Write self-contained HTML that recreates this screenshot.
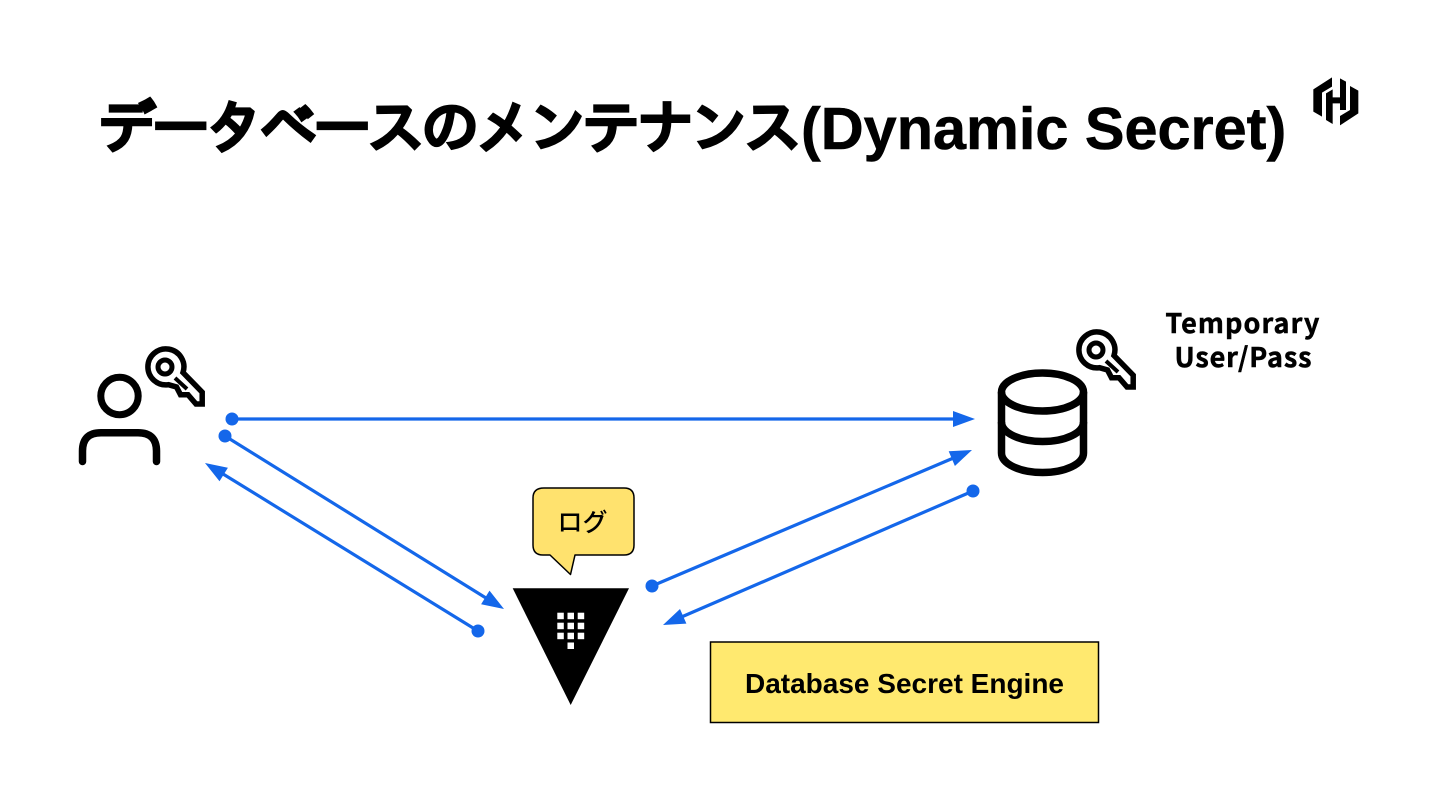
<!DOCTYPE html>
<html lang="ja">
<head>
<meta charset="utf-8">
<title>データベースのメンテナンス(Dynamic Secret)</title>
<style>
html,body{margin:0;padding:0;background:#fff;width:1440px;height:810px;overflow:hidden}
svg{display:block}
</style>
</head>
<body>
<svg width="1440" height="810" viewBox="0 0 1440 810" xmlns="http://www.w3.org/2000/svg">
<defs>
<g id="key" fill="none" stroke="#000">
<path d="M18 5.500 A18 18 0 1 0 3.500 17.700 L11.500 20 L15.500 27.700 L23 27.700 L31 37 L37.200 37 L37.200 25.200 Z" stroke-width="5.500" fill="#fff" stroke-linejoin="miter"/>
<circle cx="0" cy="0" r="7" stroke-width="5"/>
<path d="M10 11 L22 22" stroke-width="4"/>
</g>
</defs>

<text x="98" y="148" font-family="'Liberation Sans','IPAGothic',sans-serif" font-weight="700" font-size="58" fill="#000" stroke="#000" stroke-width="2.200" textLength="704" lengthAdjust="spacing">データベースのメンテナンス</text>
<text x="801" y="149" font-family="'Liberation Sans',sans-serif" font-weight="700" font-size="59.400" fill="#000" stroke="#000" stroke-width=".6">(Dynamic Secret)</text>

<g transform="translate(1290,60) scale(.33333)" fill="#000">
<polygon points="70,88 126,52 126,80 96,98 96,170 70,155"/>
<polygon points="108,100 128,88 128,112 150,112 150,55 168,65 168,150 150,150 150,130 128,130 128,192 108,180"/>
<polygon points="205,160 150,196 150,168 180,150 180,78 205,92"/>
</g>

<!-- User -->
<circle cx="119.500" cy="396" r="18.700" fill="none" stroke="#000" stroke-width="7"/>
<path d="M82.500 461.500 V451 Q82.500 432.700 101 432.700 H138 Q156.500 432.700 156.500 451 V461.500" fill="none" stroke="#000" stroke-width="7.500" stroke-linecap="round"/>
<use href="#key" x="165" y="367"/>

<!-- Database -->
<g fill="none" stroke="#000" stroke-width="7.500">
<ellipse cx="1042.500" cy="392" rx="41" ry="19"/>
<path d="M1001.500 392 V453 C1001.500 464 1020 472.500 1042.500 472.500 C1065 472.500 1083.500 464 1083.500 453 V392"/>
<path d="M1001.500 422 C1001.500 433 1020 441.500 1042.500 441.500 C1065 441.500 1083.500 433 1083.500 422"/>
</g>
<use href="#key" x="1096" y="350"/>

<text font-family="'Noto Sans CJK JP','DejaVu Sans',sans-serif" font-weight="700" font-size="27" fill="#000" stroke="#000" stroke-width=".5" text-anchor="middle">
<tspan x="1246" y="333" textLength="154">Temporary</tspan>
<tspan x="1243" y="367" textLength="137">User/Pass</tspan>
</text>

<!-- Arrows -->
<g stroke="#1467ea" stroke-width="3.200" fill="none">
<line x1="232" y1="419" x2="960" y2="419"/>
<line x1="225" y1="436" x2="490" y2="600.500"/>
<line x1="478" y1="631" x2="219" y2="471.500"/>
<line x1="652" y1="586" x2="957" y2="456.500"/>
<line x1="973" y1="491" x2="678" y2="618.500"/>
</g>
<g fill="#1467ea">
<circle cx="232" cy="419" r="6.500"/>
<circle cx="225" cy="436" r="6.500"/>
<circle cx="478" cy="631" r="6.500"/>
<circle cx="652" cy="586" r="6.500"/>
<circle cx="973" cy="491" r="6.500"/>
<polygon points="975,419 953,411 953,427"/>
<polygon points="504,609 481.100,604.200 489.500,590.600"/>
<polygon points="205,463 227.900,467.700 219.500,481.300"/>
<polygon points="972,450 954.900,466 948.700,451.200"/>
<polygon points="663,625 686.400,623.600 680,609"/>
</g>

<!-- Vault -->
<polygon points="512.700,588.300 629,588.300 570.700,705" fill="#000"/>
<g fill="#fff">
<rect x="557.300" y="612.700" width="6.500" height="6.500"/><rect x="567.500" y="612.700" width="6.500" height="6.500"/><rect x="577.700" y="612.700" width="6.500" height="6.500"/>
<rect x="557.300" y="622.700" width="6.500" height="6.500"/><rect x="567.500" y="622.700" width="6.500" height="6.500"/><rect x="577.700" y="622.700" width="6.500" height="6.500"/>
<rect x="557.300" y="632.700" width="6.500" height="6.500"/><rect x="567.500" y="632.700" width="6.500" height="6.500"/><rect x="577.700" y="632.700" width="6.500" height="6.500"/>
<rect x="567.500" y="642.500" width="6.500" height="6.500"/>
</g>

<!-- Bubble -->
<path d="M544 488 H624 Q634 488 634 498 V545 Q634 555 624 555 H575 L570.500 574.500 L550 555 H543 Q533 555 533 545 V498 Q533 488 544 488 Z" fill="#ffe26e" stroke="#000" stroke-width="1.500" stroke-linejoin="round"/>
<text x="582.500" y="531" font-family="'Liberation Sans','Noto Sans CJK JP',sans-serif" font-size="25" font-weight="500" fill="#000" text-anchor="middle">ログ</text>

<!-- Engine box -->
<rect x="710.500" y="642" width="388" height="80.500" fill="#ffe96f" stroke="#000" stroke-width="1.500"/>
<text x="904.500" y="693" font-family="'Liberation Sans',sans-serif" font-weight="700" font-size="28" fill="#000" text-anchor="middle">Database Secret Engine</text>
</svg>
</body>
</html>
